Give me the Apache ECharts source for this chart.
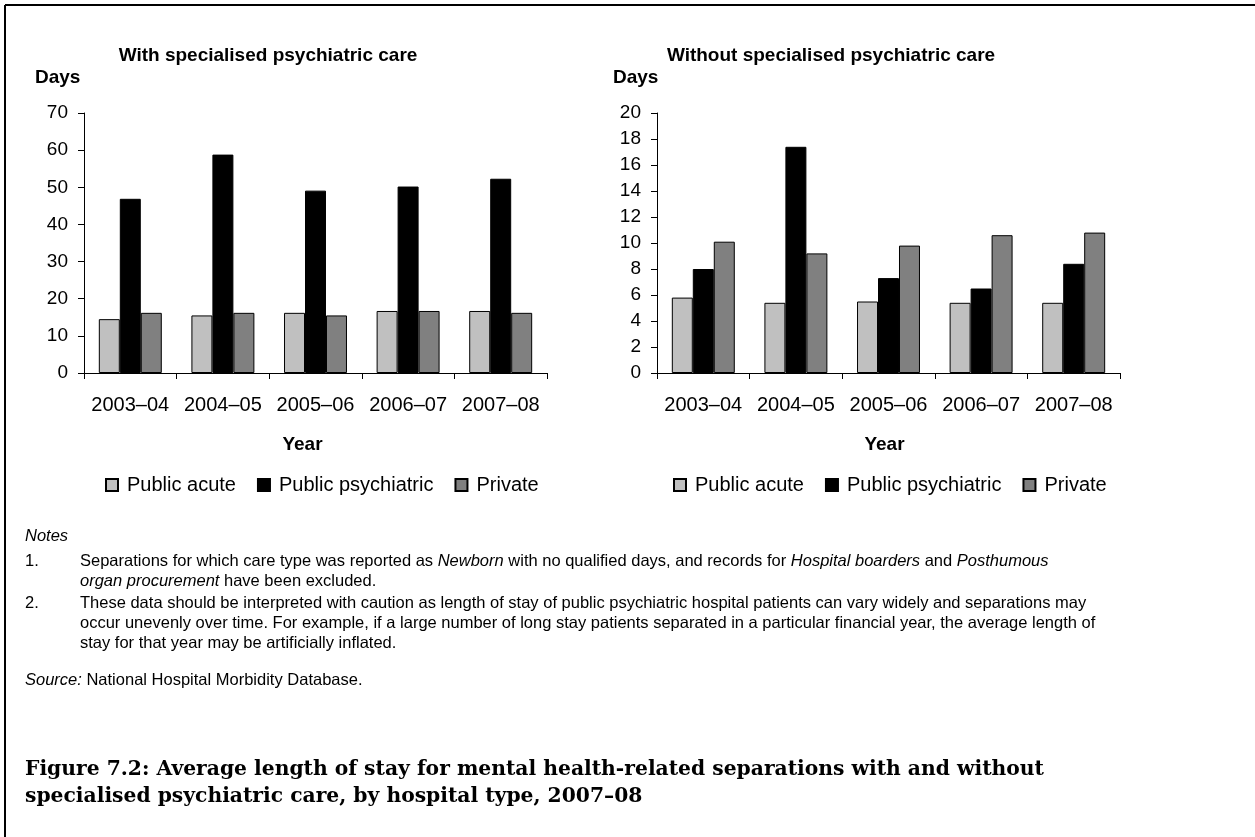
<!DOCTYPE html>
<html style="height: 100%">
<head>
  <meta charset="utf-8">
  <title>Figure 7.2</title>
  <script src="https://cdn.jsdelivr.net/npm/echarts@6/dist/echarts.min.js"></script>
</head>
<body style="margin: 0; background: #fff">
  <div id="container" style="height: 837px; width: 1255px;"></div>
  <script type="text/javascript">

var years = ['2003–04', '2004–05', '2005–06', '2006–07', '2007–08'];
var seriesNames = ['Public acute', 'Public psychiatric', 'Private'];
var seriesColors = ['#c0c0c0', '#000000', '#808080'];

// with specialised psychiatric care (days)
var withAcute = [14.5, 15.5, 16.2, 16.7, 16.7];
var withPsych = [46.9, 58.8, 49.1, 50.2, 52.3];
var withPrivate = [16.2, 16.2, 15.5, 16.7, 16.2];

// without specialised psychiatric care (days)
var withoutAcute = [5.8, 5.4, 5.5, 5.4, 5.4];
var withoutPsych = [8.0, 17.4, 7.3, 6.5, 8.4];
var withoutPrivate = [10.1, 9.2, 9.8, 10.6, 10.8];

var sans = 'Liberation Sans, Arial, sans-serif';
var serif = 'DejaVu Serif, serif';

var dom = document.getElementById('container');
var myChart = echarts.init(dom);

function xAxisCfg(gridIndex, namePad) {
  return {
    type: 'category',
    gridIndex: gridIndex,
    data: years,
    name: 'Year',
    nameLocation: 'middle',
    nameGap: 62,
    nameTextStyle: {
      fontFamily: sans, fontSize: 19, fontWeight: 'bold', color: '#000',
      padding: namePad
    },
    axisLine: {lineStyle: {color: '#000', width: 1}},
    axisTick: {show: true, length: 6, lineStyle: {color: '#000'}},
    axisLabel: {fontFamily: sans, fontSize: 20, color: '#000', margin: 22, interval: 0},
    splitLine: {show: false}
  };
}

function yAxisCfg(gridIndex, max, interval) {
  return {
    type: 'value',
    gridIndex: gridIndex,
    min: 0,
    max: max,
    interval: interval,
    axisLine: {show: true, lineStyle: {color: '#000', width: 1}},
    axisTick: {show: true, length: 6, lineStyle: {color: '#000'}},
    axisLabel: {fontFamily: sans, fontSize: 19, color: '#000', margin: 16},
    splitLine: {show: false}
  };
}

function barSeries(idx, axisIndex, data) {
  return {
    name: seriesNames[idx],
    type: 'bar',
    xAxisIndex: axisIndex,
    yAxisIndex: axisIndex,
    data: data,
    barGap: '0%',
    barCategoryGap: '32%',
    itemStyle: {color: seriesColors[idx], borderColor: '#000', borderWidth: 1},
    emphasis: {disabled: true},
    animation: false
  };
}

function legendCfg(left) {
  return {
    left: left,
    top: 470,
    data: seriesNames,
    icon: 'rect',
    itemWidth: 12,
    itemHeight: 12,
    itemGap: 21,
    selectedMode: false,
    textStyle: {fontFamily: sans, fontSize: 20, color: '#000', padding: [0, 0, 0, 4]}
  };
}

function txt(x, y, text, size, opts) {
  opts = opts || {};
  return {
    type: 'text',
    x: x,
    y: y,
    style: {
      text: text,
      fontFamily: opts.family || sans,
      fontSize: size,
      fontWeight: opts.weight || 'normal',
      fontStyle: opts.style || 'normal',
      fill: '#000',
      textAlign: opts.align || 'left',
      textVerticalAlign: 'middle',
      rich: {
        i: {fontFamily: opts.family || sans, fontSize: size, fontStyle: 'italic', fill: '#000'}
      }
    }
  };
}

var noteSize = 16.5;

option = {
  backgroundColor: '#fff',
  animation: false,
  grid: [
    {left: 84, top: 113, width: 463, height: 260},
    {left: 657, top: 113, width: 463, height: 260}
  ],
  xAxis: [xAxisCfg(0, [0, 26, 0, 0]), xAxisCfg(1, [0, 8, 0, 0])],
  yAxis: [yAxisCfg(0, 70, 10), yAxisCfg(1, 20, 2)],
  legend: [legendCfg(100), legendCfg(668)],
  series: [
    barSeries(0, 0, withAcute),
    barSeries(1, 0, withPsych),
    barSeries(2, 0, withPrivate),
    barSeries(0, 1, withoutAcute),
    barSeries(1, 1, withoutPsych),
    barSeries(2, 1, withoutPrivate)
  ],
  graphic: [
    // frame
    {type: 'line', shape: {x1: 5, y1: 5, x2: 1255, y2: 5}, style: {stroke: '#000', lineWidth: 2}},
    {type: 'line', shape: {x1: 5, y1: 5, x2: 5, y2: 837}, style: {stroke: '#000', lineWidth: 2}},
    // panel titles
    txt(268, 56, 'With specialised psychiatric care', 19, {weight: 'bold', align: 'center'}),
    txt(831, 56, 'Without specialised psychiatric care', 19, {weight: 'bold', align: 'center'}),
    txt(35, 78, 'Days', 19, {weight: 'bold'}),
    txt(613, 78, 'Days', 19, {weight: 'bold'}),
    // notes
    txt(25, 536, 'Notes', noteSize, {style: 'italic'}),
    txt(25, 561, '1.', noteSize),
    txt(80, 561, 'Separations for which care type was reported as {i|Newborn} with no qualified days, and records for {i|Hospital boarders} and {i|Posthumous}', noteSize),
    txt(80, 581, '{i|organ procurement} have been excluded.', noteSize),
    txt(25, 603, '2.', noteSize),
    txt(80, 603, 'These data should be interpreted with caution as length of stay of public psychiatric hospital patients can vary widely and separations may', noteSize),
    txt(80, 623, 'occur unevenly over time. For example, if a large number of long stay patients separated in a particular financial year, the average length of', noteSize),
    txt(80, 643, 'stay for that year may be artificially inflated.', noteSize),
    txt(25, 680, '{i|Source:} National Hospital Morbidity Database.', noteSize),
    // figure caption
    txt(25, 770, 'Figure 7.2: Average length of stay for mental health-related separations with and without', 20.3, {family: serif, weight: 'bold'}),
    txt(25, 797, 'specialised psychiatric care, by hospital type, 2007–08', 20.3, {family: serif, weight: 'bold'})
  ]
};

myChart.setOption(option, true);

  </script>
</body>
</html>
